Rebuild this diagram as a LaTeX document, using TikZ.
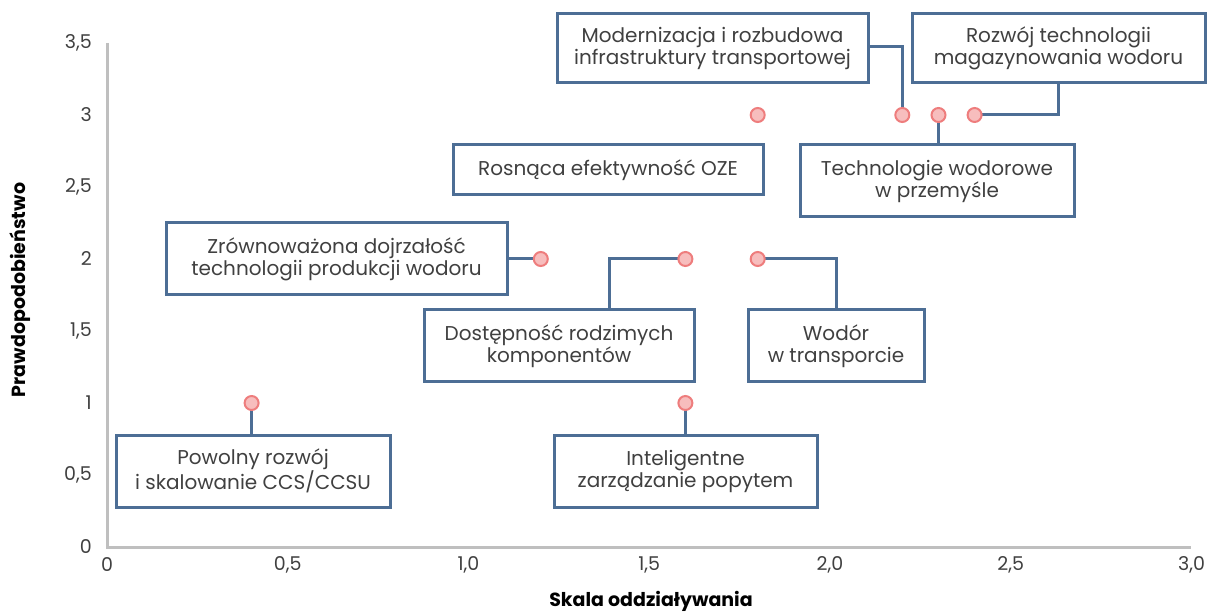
\documentclass[tikz,border=0pt]{standalone}
\usepackage{fontspec}
\setmainfont{Poppins}
\begin{document}
\definecolor{boxline}{HTML}{4D6E95}
\definecolor{dotfill}{HTML}{F7BDBD}
\definecolor{dotline}{HTML}{EE7D7D}
\definecolor{axisgray}{HTML}{BFBFBF}
\definecolor{txt}{HTML}{404040}
\begin{tikzpicture}[x=1pt,y=-1pt,
  lbl/.style={draw=boxline,line width=3pt,fill=white,align=center,inner sep=0pt,
     text=txt,font=\fontsize{20}{22}\selectfont},
  pt/.style={circle,draw=dotline,fill=dotfill,line width=2pt,minimum size=14pt,inner sep=0pt},
  link/.style={draw=boxline,line width=3pt},
  tick/.style={text=txt,font=\fontsize{19}{21}\selectfont,inner sep=0pt},
  axtitle/.style={text=black,font=\fontsize{19}{21}\selectfont\bfseries,inner sep=0pt}]
\useasboundingbox (0,0) rectangle (1208,612);

% axes
\draw[axisgray,line width=3pt] (107,43) -- (107,547) -- (1191,547);

% y tick labels
\foreach \v/\t in {0/0,0.5/{0,5},1/1,1.5/{1,5},2/2,2.5/{2,5},3/3,3.5/{3,5}}
  \node[tick,anchor=east] at (92,{547-144*\v}) {\t};
% x tick labels
\foreach \v/\t in {0/0,0.5/{0,5},1/{1,0},1.5/{1,5},2/{2,0},2.5/{2,5},3/{3,0}}
  \node[tick] at ({107+361.5*\v},565) {\t};

\node[axtitle] (xt) at (651,601) {Skala oddziaływania};
\node[axtitle,rotate=90] (yt) at (20,290) {Prawdopodobieństwo};

% labelled boxes
\node[lbl,minimum width=311pt,minimum height=69pt] (mod) at (712.5,48.5) {Modernizacja i rozbudowa\\infrastruktury transportowej};
\node[lbl,minimum width=293pt,minimum height=69pt] (roz) at (1058.5,48.5) {Rozwój technologii\\magazynowania wodoru};
\node[lbl,minimum width=274pt,minimum height=72pt] (tech) at (937,181) {Technologie wodorowe\\w przemyśle};
\node[lbl,minimum width=310pt,minimum height=50pt] (oze) at (608,170) {Rosnąca efektywność OZE};
\node[lbl,minimum width=341pt,minimum height=72pt] (zrow) at (336.5,259) {Zrównoważona dojrzałość\\technologii produkcji wodoru};
\node[lbl,minimum width=270pt,minimum height=72pt] (dost) at (559,346) {Dostępność rodzimych\\komponentów};
\node[lbl,minimum width=176pt,minimum height=72pt] (wod) at (836,346) {Wodór\\w transporcie};
\node[lbl,minimum width=263pt,minimum height=72pt] (intel) at (685.5,471) {Inteligentne\\zarządzanie popytem};
\node[lbl,minimum width=274pt,minimum height=72pt] (pow) at (253,471) {Powolny rozwój\\i skalowanie CCS/CCSU};

% data points
\coordinate (d1) at (251.6,403);
\coordinate (d2) at (685.4,403);
\coordinate (d3) at (540.8,259);
\coordinate (d4) at (685.4,259);
\coordinate (d5) at (757.7,259);
\coordinate (d6) at (757.7,115);
\coordinate (d7) at (902.3,115);
\coordinate (d8) at (938.5,115);
\coordinate (d9) at (974.6,115);

% connectors
\draw[link] ([yshift=1.5pt]mod.east) -| (d7);
\draw[link] (roz.south) |- (d9);
\draw[link] (d8) -- (d8 |- tech.north);
\draw[link] (zrow.east) -- (d3);
\draw[link] ([xshift=50pt]dost.north) |- (d4);
\draw[link] (wod.north) |- (d5);
\draw[link] (d2) -- (d2 |- intel.north);
\draw[link] (d1) -- (d1 |- pow.north);

\foreach \d in {d1,d2,d3,d4,d5,d6,d7,d8,d9}
  \node[pt] (p\d) at (\d) {};
\end{tikzpicture}
\end{document}
